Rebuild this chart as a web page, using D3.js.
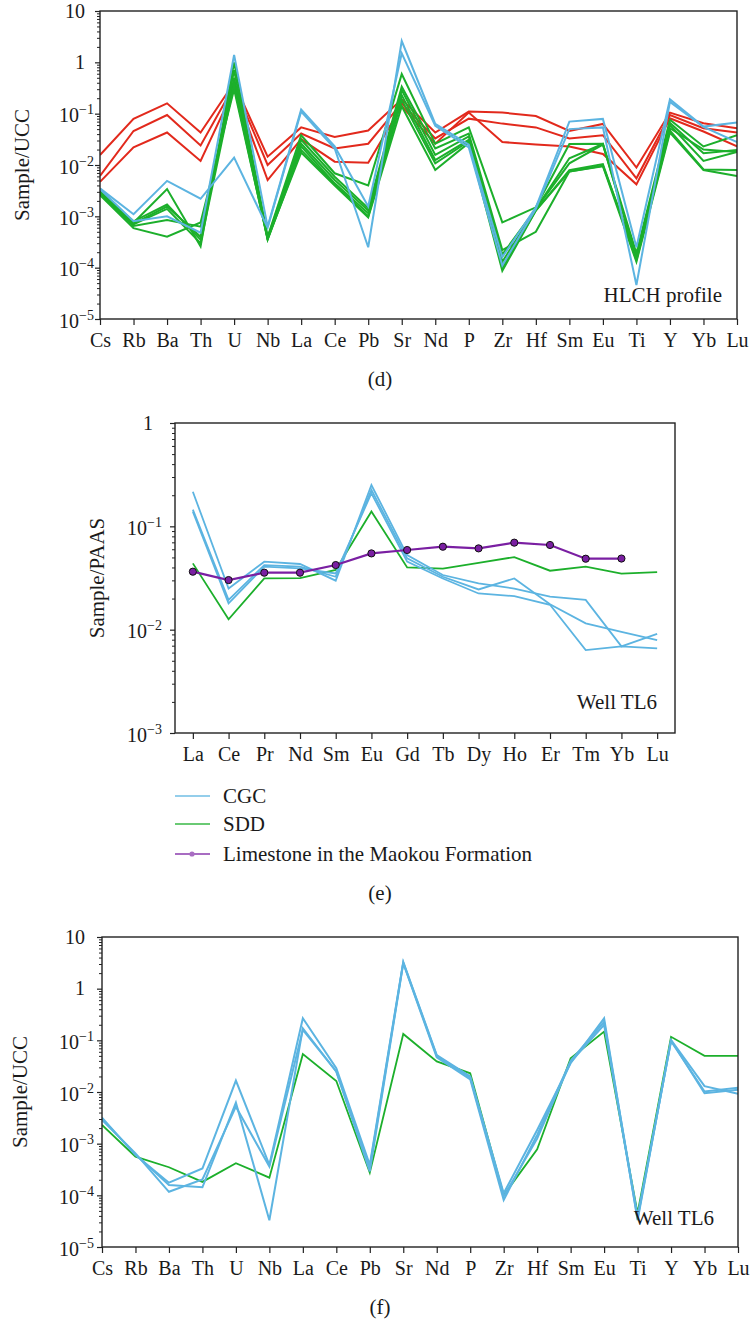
<!DOCTYPE html>
<html><head><meta charset="utf-8">
<script src="https://cdn.jsdelivr.net/npm/d3@7"></script>
<style>
body{margin:0;background:#fff}
svg{display:block}
text{font-family:"Liberation Serif","Times New Roman",Times,serif;fill:#1a1a1a}
</style>
</head><body>
<svg id="chart" width="753" height="1325" font-family="Liberation Serif, Times New Roman, serif"></svg>
<script>
// ---------- categories ----------
const traceElements = ["Cs","Rb","Ba","Th","U","Nb","La","Ce","Pb","Sr","Nd","P","Zr","Hf","Sm","Eu","Ti","Y","Yb","Lu"];
const reeElements = ["La","Ce","Pr","Nd","Sm","Eu","Gd","Tb","Dy","Ho","Er","Tm","Yb","Lu"];

// ---------- tick values ----------
const uccTicks = [10,1,0.1,0.01,0.001,0.0001,0.00001];
const paasTicks = [1,0.1,0.01,0.001];

// ---------- (d) HLCH profile, Sample/UCC ----------
const hlchRed = [
 [0.0157,0.079,0.159,0.043,0.40,0.0145,0.054,0.035,0.047,0.19,0.043,0.11,0.105,0.09,0.046,0.063,0.0089,0.105,0.065,0.052],
 [0.0061,0.046,0.094,0.024,0.35,0.010,0.041,0.021,0.026,0.16,0.033,0.08,0.064,0.054,0.033,0.038,0.0055,0.094,0.052,0.043],
 [0.0047,0.022,0.043,0.012,0.30,0.0051,0.032,0.0116,0.0111,0.14,0.026,0.105,0.028,0.025,0.023,0.0164,0.0042,0.081,0.045,0.023]
];
const hlchGreen = [
 [0.0031,0.00075,0.0034,0.00026,1.0,0.0004,0.038,0.0069,0.004,0.59,0.026,0.054,0.00076,0.0015,0.0257,0.026,0.00019,0.076,0.023,0.038],
 [0.0030,0.0008,0.0017,0.00035,0.7,0.00038,0.031,0.0059,0.00144,0.335,0.021,0.041,0.00022,0.0005,0.0075,0.0097,0.00017,0.066,0.017,0.0196],
 [0.0029,0.00072,0.00155,0.0004,0.5,0.00037,0.026,0.0051,0.0013,0.29,0.0157,0.036,0.00018,0.0014,0.0135,0.0257,0.00016,0.06,0.012,0.018],
 [0.0028,0.0007,0.0014,0.0003,0.4,0.00036,0.023,0.0044,0.00115,0.23,0.0125,0.031,0.00013,0.0014,0.0108,0.025,0.00015,0.052,0.02,0.018],
 [0.0027,0.00065,0.00085,0.00063,0.35,0.00035,0.0196,0.0042,0.001,0.185,0.0108,0.029,0.0001,0.0013,0.0079,0.0104,0.00014,0.047,0.0082,0.008],
 [0.0026,0.00059,0.0004,0.00076,0.3,0.00037,0.0174,0.004,0.00095,0.14,0.008,0.027,0.000087,0.0013,0.0075,0.0095,0.00013,0.043,0.008,0.0061]
];
const hlchBlue = [
 [0.0035,0.0011,0.0049,0.0022,0.014,0.0006,0.11,0.021,0.00025,2.6,0.063,0.025,0.00016,0.0015,0.07,0.079,0.00025,0.19,0.056,0.067],
 [0.0034,0.0008,0.001,0.00048,1.39,0.00063,0.12,0.023,0.00155,1.5,0.058,0.022,0.00011,0.0014,0.05,0.054,0.000046,0.17,0.055,0.028]
];

// ---------- (e) Well TL6, Sample/PAAS ----------
const reeCGC = [
 [0.216,0.025,0.0455,0.0432,0.0298,0.251,0.0527,0.0338,0.028,0.025,0.0209,0.0194,0.0069,0.0091],
 [0.145,0.0194,0.0422,0.0407,0.0325,0.225,0.049,0.0325,0.0245,0.0313,0.0176,0.0115,0.0095,0.0079],
 [0.139,0.018,0.0407,0.0392,0.035,0.209,0.0455,0.0313,0.0224,0.0211,0.0174,0.00635,0.0069,0.0066]
];
const reeSDD = [0.0438,0.0126,0.0313,0.0316,0.0378,0.139,0.040,0.039,0.0444,0.0504,0.0372,0.0407,0.0348,0.0361];
const reeLimestone = [0.0364,0.0302,0.0356,0.0356,0.0422,0.0547,0.059,0.0635,0.0612,0.0695,0.066,0.0486,0.0488];

// ---------- (f) Well TL6, Sample/UCC ----------
const tl6CGC = [
 [0.0032,0.0006,0.000176,0.00033,0.0166,0.00039,0.267,0.0288,0.00039,3.3,0.052,0.020,0.00011,0.00184,0.036,0.267,0.000033,0.102,0.013,0.0092],
 [0.0030,0.00062,0.000158,0.000143,0.0062,0.000033,0.171,0.0248,0.00029,3.1,0.047,0.0176,0.000081,0.00148,0.040,0.229,0.000039,0.096,0.0102,0.0121],
 [0.0029,0.00065,0.000117,0.000203,0.0052,0.00036,0.16,0.025,0.00035,3.2,0.050,0.019,0.000095,0.00126,0.038,0.20,0.000036,0.10,0.0095,0.011]
];
const tl6SDD = [0.0023,0.00056,0.00035,0.000182,0.00042,0.00022,0.054,0.0163,0.000274,0.133,0.039,0.023,0.0001,0.00078,0.045,0.148,0.000045,0.117,0.05,0.05];

// ---------- styles ----------
const RED = "#e2291c", GREEN = "#1caf2b", BLUE = "#5cb4e1", PURPLE = "#7a1fa2";
const FF = '"Liberation Serif","Times New Roman",Times,serif';
const TICKFONT = 20, SUPFONT = 14, LABFONT = 21;

const svg = d3.select("#chart");

function supLabel(sel, v, anchorX, y) {
  const k = Math.round(Math.log10(v));
  const t = sel.append("text").attr("text-anchor","end").attr("font-size",TICKFONT).attr("font-family",FF);
  if (k === 0 || k === 1) {
    t.attr("x", anchorX - 9).attr("y", y + 6.5).text(k === 0 ? "1" : "10");
  } else {
    t.attr("x", anchorX).attr("y", y + 8.5);
    t.append("tspan").text("10");
    t.append("tspan").attr("font-size",SUPFONT).attr("dy",-8).text("\u2212" + Math.abs(k));
  }
}

function panel(cfg) {
  const g = svg.append("g");
  const x = d3.scalePoint().domain(cfg.cats).range([cfg.left, cfg.right]).padding(cfg.pad);
  const y = d3.scaleLog().domain(cfg.domain).range([cfg.bottom, cfg.top]);

  // minor ticks
  const minors = [];
  const lo = Math.round(Math.log10(cfg.domain[0])), hi = Math.round(Math.log10(cfg.domain[1]));
  for (let e = lo; e < hi; e++) for (let m = 2; m <= 9; m++) minors.push(m * Math.pow(10, e));
  g.append("g").attr("transform",`translate(${cfg.left},0)`)
    .call(d3.axisLeft(y).tickValues(minors).tickSize(3).tickFormat(""))
    .call(a => a.select(".domain").remove())
    .call(a => a.selectAll("line").attr("stroke","#222").attr("stroke-width",1));
  g.append("g").attr("transform",`translate(${cfg.left},0)`)
    .call(d3.axisLeft(y).tickValues(cfg.ticks).tickSize(5).tickFormat(""))
    .call(a => a.select(".domain").remove())
    .call(a => a.selectAll("line").attr("stroke","#222").attr("stroke-width",1.2));
  cfg.ticks.forEach(v => supLabel(g, v, cfg.left - cfg.labOff, y(v)));

  // x axis
  g.append("g").attr("transform",`translate(0,${cfg.bottom})`)
    .call(d3.axisBottom(x).tickSize(6).tickPadding(8))
    .call(a => a.attr("font-family",FF))
    .call(a => a.select(".domain").remove())
    .call(a => a.selectAll("line").attr("stroke","#222").attr("stroke-width",1.2))
    .call(a => a.selectAll("text").attr("font-size",TICKFONT).attr("fill","#1a1a1a").attr("font-family",FF));

  // y label
  g.append("text").attr("transform",`translate(${cfg.ylabX},${(cfg.top+cfg.bottom)/2}) rotate(-90)`)
    .attr("text-anchor","middle").attr("font-size",LABFONT).attr("font-family",FF).text(cfg.ylab);

  const clip = "clip" + cfg.id;
  g.append("clipPath").attr("id",clip).append("rect")
    .attr("x",cfg.left).attr("y",cfg.top).attr("width",cfg.right-cfg.left).attr("height",cfg.bottom-cfg.top);
  const lines = g.append("g").attr("clip-path",`url(#${clip})`);
  const line = d3.line().x((d,i) => x(cfg.cats[i])).y(d => y(d));
  cfg.series.forEach(s => {
    s.data.forEach(arr => {
      lines.append("path").attr("d", line(arr)).attr("fill","none")
        .attr("stroke", s.color).attr("stroke-width", s.width).attr("stroke-linejoin","miter");
      if (s.markers) {
        lines.selectAll(null).data(arr).enter().append("circle")
          .attr("cx",(d,i)=>x(cfg.cats[i])).attr("cy",d=>y(d)).attr("r",3.6)
          .attr("fill",s.color).attr("stroke","#111").attr("stroke-width",1);
      }
    });
  });

  // frame
  g.append("rect").attr("x",cfg.left).attr("y",cfg.top).attr("width",cfg.right-cfg.left)
    .attr("height",cfg.bottom-cfg.top).attr("fill","none").attr("stroke","#222").attr("stroke-width",1.4);

  g.append("text").attr("x",cfg.noteX).attr("y",cfg.noteY).attr("text-anchor","end")
    .attr("font-size",LABFONT).attr("font-family",FF).text(cfg.note);
  g.append("text").attr("x",380).attr("y",cfg.capY).attr("text-anchor","middle")
    .attr("font-size",LABFONT).attr("font-family",FF).text(cfg.caption);
  return g;
}

panel({id:"d", cats:traceElements, left:100, right:737, top:11, bottom:319, pad:0,
  domain:[1e-5,10], ticks:uccTicks, labOff:6, ylab:"Sample/UCC", ylabX:29,
  note:"HLCH profile", noteX:722, noteY:302, caption:"(d)", capY:386,
  series:[{color:RED,width:2,data:hlchRed},{color:GREEN,width:2,data:hlchGreen},{color:BLUE,width:2,data:hlchBlue}]});

panel({id:"e", cats:reeElements, left:175, right:675, top:423, bottom:733, pad:0.5,
  domain:[1e-3,1], ticks:paasTicks, labOff:13, ylab:"Sample/PAAS", ylabX:104,
  note:"Well TL6", noteX:657, noteY:709, caption:"(e)", capY:900,
  series:[{color:GREEN,width:1.8,data:[reeSDD]},{color:BLUE,width:1.8,data:reeCGC},{color:PURPLE,width:2.2,data:[reeLimestone],markers:true}]});

panel({id:"f", cats:traceElements, left:102, right:738, top:937, bottom:1247, pad:0,
  domain:[1e-5,10], ticks:uccTicks, labOff:8, ylab:"Sample/UCC", ylabX:27,
  note:"Well TL6", noteX:714, noteY:1225, caption:"(f)", capY:1314,
  series:[{color:GREEN,width:1.8,data:[tl6SDD]},{color:BLUE,width:2,data:tl6CGC}]});

// legend for (e)
const legendItems = [
  {label:"CGC", color:BLUE, y:796, dot:false},
  {label:"SDD", color:GREEN, y:824, dot:false},
  {label:"Limestone in the Maokou Formation", color:PURPLE, y:854, dot:true}
];
const lg = svg.append("g").selectAll("g").data(legendItems).enter().append("g").attr("opacity",0.65);
lg.append("line").attr("x1",175).attr("x2",210).attr("y1",d=>d.y).attr("y2",d=>d.y)
  .attr("stroke",d=>d.color).attr("stroke-width",1.8);
lg.filter(d=>d.dot).append("circle").attr("cx",192).attr("cy",d=>d.y).attr("r",2.6).attr("fill",d=>d.color);
svg.append("g").selectAll("text").data(legendItems).enter().append("text")
  .attr("x",223).attr("y",d=>d.y+7).attr("font-size",LABFONT).attr("font-family",FF).text(d=>d.label);
</script>
</body></html>
